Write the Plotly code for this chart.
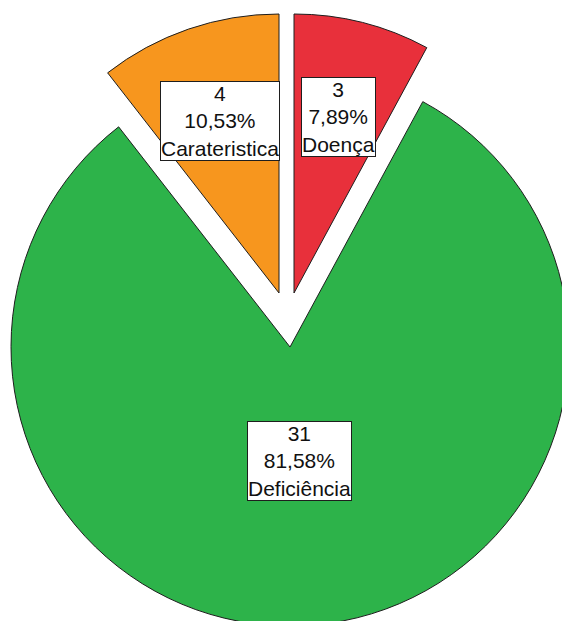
import math
import plotly.graph_objects as go

# Frequencies per category
categories = ["Doença", "Deficiência", "Carateristica"]
counts = [3, 31, 4]
colors = ["#E8303B", "#2DB34A", "#F7961E"]

total = sum(counts)
percent_text = [f"{c / total * 100:.2f}".replace(".", ",") + "%" for c in counts]

# Canvas and exploded-slice geometry (pixels)
W, H = 576, 630
R = 279
apex = [(294, 293), (290, 347), (279, 293)]   # tip of each exploded slice
label_frac = [0.65, 0.41, 0.65]                # label distance along bisector

fig = go.Figure()
annotations = []
cum = 0
for i, cat in enumerate(categories):
    ax, ay = apex[i]
    dom_x = [max(0.0, (ax - R) / W), min(1.0, (ax + R) / W)]
    dom_y = [max(0.0, 1 - (ay + R) / H), min(1.0, 1 - (ay - R) / H)]
    slice_colors = [colors[j] if j == i else "rgba(0,0,0,0)" for j in range(len(categories))]
    line_widths = [1 if j == i else 0 for j in range(len(categories))]
    fig.add_trace(go.Pie(
        values=counts,
        labels=categories,
        sort=False,
        direction="clockwise",
        rotation=0,
        marker=dict(colors=slice_colors,
                    line=dict(color="#1e1e1e", width=line_widths)),
        textinfo="none",
        hoverinfo="label+value+percent",
        showlegend=False,
        domain=dict(x=dom_x, y=dom_y),
    ))

    # label box on the slice bisector
    mid = (cum + counts[i] / 2) / total * 2 * math.pi
    cum += counts[i]
    lx = ax + label_frac[i] * R * math.sin(mid)
    ly = ay - label_frac[i] * R * math.cos(mid)
    annotations.append(dict(
        x=lx / W, y=1 - ly / H, xref="paper", yref="paper",
        xanchor="center", yanchor="middle", showarrow=False,
        text=f"{counts[i]}<br>{percent_text[i]}<br>{cat}",
        font=dict(family="Liberation Sans, Arial, sans-serif", size=21, color="#111111"),
        bgcolor="white", bordercolor="#1e1e1e", borderwidth=1, borderpad=0,
    ))

fig.update_layout(
    width=W, height=H,
    margin=dict(l=0, r=0, t=0, b=0),
    paper_bgcolor="white",
    plot_bgcolor="white",
    annotations=annotations,
)

fig.write_html(
    "out.html",
    post_script="document.documentElement.style.overflow='hidden';document.body.style.overflow='hidden';",
)
